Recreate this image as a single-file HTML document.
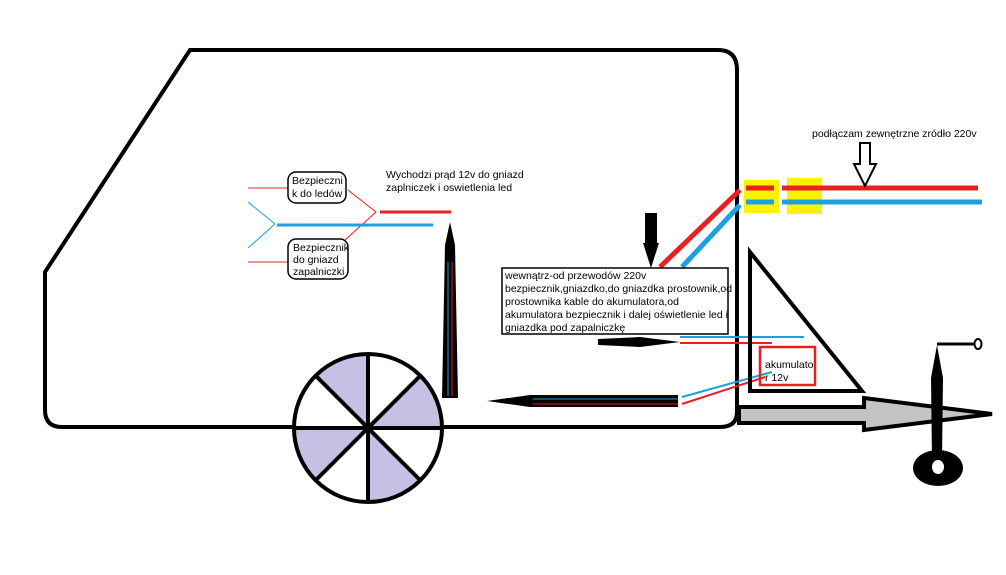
<!DOCTYPE html>
<html><head><meta charset="utf-8"><style>
body{margin:0;background:#fff}
svg text{font-family:"Liberation Sans",sans-serif;font-size:10.5px;fill:#000}
</style></head><body>
<svg width="1006" height="570" viewBox="0 0 1006 570" xmlns="http://www.w3.org/2000/svg">
<path d="M190,50 L718,50 Q737,50 737,70 L737,412 Q737,427 720,427 L62,427 Q45,427 45,410 L45,272 Z" fill="none" stroke="#000" stroke-width="4"/>
<circle cx="368" cy="428" r="74" fill="#fff"/>
<path d="M368,428 L368,354 A74,74 0 0 0 316,376 Z" fill="#c6c0e4"/>
<path d="M368,428 L420,376 A74,74 0 0 1 442,428 Z" fill="#c6c0e4"/>
<path d="M368,428 L294,428 A74,74 0 0 0 316,480 Z" fill="#c6c0e4"/>
<path d="M368,428 L368,502 A74,74 0 0 0 420,480 Z" fill="#c6c0e4"/>
<circle cx="368" cy="428" r="74" fill="none" stroke="#000" stroke-width="4"/>
<g stroke="#000" stroke-width="4"><line x1="368" y1="354" x2="368" y2="502"/><line x1="316" y1="376" x2="420" y2="480"/><line x1="420" y1="376" x2="316" y2="480"/><line x1="294" y1="428" x2="442" y2="428"/></g>
<g stroke-width="1"><line x1="248" y1="188" x2="290" y2="188" stroke="#e82020"/><line x1="248" y1="262" x2="290" y2="262" stroke="#e82020"/>
<polyline points="348,190 376,212 345,240" fill="none" stroke="#e82020"/>
<polyline points="248,202 275,224 248,248" fill="none" stroke="#1ba0e0"/></g>
<line x1="380" y1="212" x2="451" y2="212" stroke="#e82020" stroke-width="3"/>
<line x1="277" y1="225" x2="433" y2="225" stroke="#1ba0e0" stroke-width="3"/>
<rect x="288" y="172" width="58" height="31" rx="8" fill="#fff" stroke="#000" stroke-width="1.5"/>
<text x="292" y="184">Bezpieczni</text><text x="292" y="197">k do ledów</text>
<rect x="288" y="239" width="60" height="40" rx="8" fill="#fff" stroke="#000" stroke-width="1.5"/>
<text x="293" y="251">Bezpiecznik</text><text x="293" y="263">do gniazd</text><text x="293" y="275">zapalniczki</text>
<text x="386" y="178">Wychodzi prąd 12v do gniazd</text><text x="386" y="191">zaplniczek i oswietlenia led</text>
<polygon points="450,222 445,245 442,398 458,398 455,245" fill="#000"/>
<line x1="448" y1="262" x2="448" y2="396" stroke="#1ba0e0" stroke-width="1"/>
<line x1="452" y1="262" x2="452" y2="396" stroke="#e82020" stroke-width="1"/>
<rect x="645" y="213" width="12" height="30" fill="#000"/><polygon points="643,243 659,243 651,268" fill="#000"/>
<line x1="660" y1="267" x2="740" y2="190" stroke="#e82020" stroke-width="5"/>
<line x1="682" y1="267" x2="740" y2="205" stroke="#1ba0e0" stroke-width="5"/>
<rect x="744" y="180" width="35" height="33" fill="#fff200"/><rect x="787" y="178" width="35" height="36" fill="#fff200"/>
<g stroke-width="5"><line x1="746" y1="188" x2="774" y2="188" stroke="#e82020"/><line x1="746" y1="202" x2="774" y2="202" stroke="#1ba0e0"/>
<line x1="782" y1="188" x2="978" y2="188" stroke="#e82020"/><line x1="782" y1="202" x2="982" y2="202" stroke="#1ba0e0"/></g>
<polygon points="860,143 870,143 870,164 876,164 865,186 854,164 860,164" fill="#fff" stroke="#000" stroke-width="2"/>
<text x="812" y="137">podłączam zewnętrzne zródło 220v</text>
<rect x="502" y="268" width="226" height="66" fill="#fff" stroke="#000" stroke-width="1.5"/>
<text x="505" y="279">wewnątrz-od przewodów 220v</text>
<text x="505" y="292">bezpiecznik,gniazdko,do gniazdka prostownik,od</text>
<text x="505" y="305">prostownika kable do akumulatora,od</text>
<text x="505" y="318">akumulatora bezpiecznik i dalej oświetlenie led i</text>
<text x="505" y="331">gniazdka pod zapalniczkę</text>
<polygon points="598,339 640,337 680,342 640,347 598,345" fill="#000"/>
<line x1="680" y1="337" x2="804" y2="337" stroke="#1ba0e0" stroke-width="2"/>
<line x1="680" y1="343" x2="772" y2="343" stroke="#e82020" stroke-width="2"/>
<polygon points="487,401 530,395 678,395 678,407 530,407" fill="#000"/>
<line x1="533" y1="399" x2="678" y2="399" stroke="#1ba0e0" stroke-width="1"/>
<line x1="533" y1="404" x2="678" y2="404" stroke="#e82020" stroke-width="1"/>
<line x1="682" y1="397" x2="772" y2="372" stroke="#1ba0e0" stroke-width="2"/>
<line x1="682" y1="404" x2="765" y2="377" stroke="#e82020" stroke-width="2"/>
<polygon points="750,252 862,391 750,391" fill="none" stroke="#000" stroke-width="4"/>
<rect x="760" y="347" width="55" height="38" fill="none" stroke="#e82020" stroke-width="2.5"/>
<text x="765" y="368">akumulato</text><text x="765" y="381">r 12v</text>
<polygon points="739,407 864,407 864,398 992,414 864,430 864,423 739,423" fill="#c3c3c3" stroke="#000" stroke-width="4"/>
<polygon points="937,345 931,378 932,460 942,460 943,378" fill="#000"/>
<line x1="937" y1="344" x2="975" y2="344" stroke="#000" stroke-width="3"/>
<ellipse cx="978" cy="344" rx="3.5" ry="5" fill="#fff" stroke="#000" stroke-width="2"/>
<ellipse cx="938" cy="468" rx="25" ry="18" fill="#000"/><ellipse cx="938" cy="467" rx="6" ry="7" fill="#fff"/>
</svg>
</body></html>
